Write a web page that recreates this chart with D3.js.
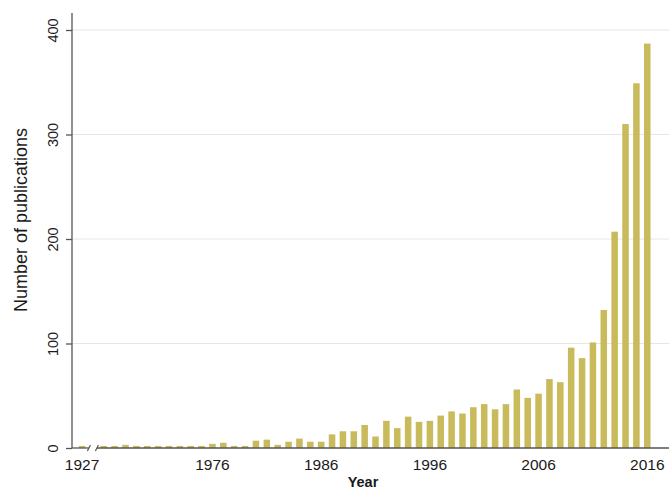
<!DOCTYPE html>
<html>
<head>
<meta charset="utf-8">
<script src="https://cdn.jsdelivr.net/npm/d3@7"></script>
<style>
  body { margin: 0; background: #fff; }
  text { font-family: "Liberation Sans", Arial, Helvetica, sans-serif; fill: #1a1a1a; }
</style>
</head>
<body>
<script>
// Data
const earlyYears = ["1927"];
const earlyCounts = [2];
const years = [
  "1966", "1967", "1968", "1969", "1970", "1971", "1972", "1973", "1974", "1975",
  "1976", "1977", "1978", "1979", "1980", "1981", "1982", "1983", "1984", "1985",
  "1986", "1987", "1988", "1989", "1990", "1991", "1992", "1993", "1994", "1995",
  "1996", "1997", "1998", "1999", "2000", "2001", "2002", "2003", "2004", "2005",
  "2006", "2007", "2008", "2009", "2010", "2011", "2012", "2013", "2014", "2015", "2016"
];
const counts = [
  2, 2, 3, 2, 2, 2, 2, 2, 2, 2,
  4, 5, 2, 2, 7, 8, 3, 6, 9, 6,
  6, 13, 16, 16, 22, 11, 26, 19, 30, 25,
  26, 31, 35, 33, 39, 42, 37, 42, 56, 48,
  52, 66, 63, 96, 86, 101, 132, 207, 310, 349, 387
];
const tickLabels = ["1927", "1976", "1986", "1996", "2006", "2016"];
const yTicks = [0, 100, 200, 300, 400];

// Configuration
const width = 669;
const height = 490;
const plotLeft = 72;
const plotBottom = 448;
const plotTop = 13;
const barColor = "#c9ba5c";
const axisColor = "#555";
const gapSlot = "gap";

// one empty slot stands for the axis break between 1927 and 1966
const slots = [...earlyYears, gapSlot, ...years];
const bars = earlyYears.map((yr, i) => ({ year: yr, n: earlyCounts[i] }))
  .concat(years.map((yr, i) => ({ year: yr, n: counts[i] })));

const svg = d3.select("body")
  .append("svg")
  .attr("width", width)
  .attr("height", height);

const x = d3.scaleBand()
  .domain(slots)
  .range([76.6, 652.7])
  .paddingInner(0.4)
  .paddingOuter(0.2);

const y = d3.scaleLinear()
  .domain([0, 400])
  .range([plotBottom, 30]);

// Gridlines
svg.append("g")
  .selectAll("line")
  .data(yTicks.filter(d => d > 0))
  .enter()
  .append("line")
  .attr("x1", plotLeft)
  .attr("x2", width)
  .attr("y1", d => y(d))
  .attr("y2", d => y(d))
  .attr("stroke", "#e6e6e6")
  .attr("stroke-width", 1);

// Bars
svg.append("g")
  .selectAll("rect")
  .data(bars)
  .enter()
  .append("rect")
  .attr("x", d => x(d.year))
  .attr("width", x.bandwidth())
  .attr("y", d => y(d.n))
  .attr("height", d => plotBottom - y(d.n))
  .attr("fill", barColor);

// Y axis
const yAxis = svg.append("g")
  .attr("transform", `translate(${plotLeft},0)`)
  .call(d3.axisLeft(y).tickValues(yTicks).tickSize(6).tickPadding(0).tickFormat(d3.format("d")));
yAxis.select(".domain").attr("d", `M0,${plotTop}V${plotBottom}`).attr("stroke", axisColor).attr("stroke-width", 1.3);
yAxis.selectAll(".tick line").attr("stroke", axisColor).attr("stroke-width", 1.3);
yAxis.selectAll(".tick text")
  .attr("x", null)
  .attr("text-anchor", "middle")
  .attr("transform", "translate(-19,0) rotate(-90)")
  .attr("dy", "0.35em")
  .style("font-size", "14.5px")
  .attr("fill", "#1a1a1a");

// X axis with break
const breakX = x(gapSlot) + x.bandwidth() / 2;
const xAxis = svg.append("g");
xAxis.append("line")
  .attr("x1", plotLeft).attr("x2", breakX - 4)
  .attr("y1", plotBottom).attr("y2", plotBottom)
  .attr("stroke", axisColor).attr("stroke-width", 1.3);
xAxis.append("line")
  .attr("x1", breakX + 4).attr("x2", width)
  .attr("y1", plotBottom).attr("y2", plotBottom)
  .attr("stroke", axisColor).attr("stroke-width", 1.3);
[-4, 4].forEach(dx => {
  xAxis.append("line")
    .attr("x1", breakX + dx - 1.5).attr("x2", breakX + dx + 1.5)
    .attr("y1", plotBottom + 3).attr("y2", plotBottom - 3)
    .attr("stroke", axisColor).attr("stroke-width", 1.2);
});

xAxis.selectAll("text")
  .data(tickLabels)
  .enter()
  .append("text")
  .attr("x", d => x(d) + x.bandwidth() / 2)
  .attr("y", plotBottom + 22)
  .attr("text-anchor", "middle")
  .style("font-size", "15.5px")
  .text(d => d);

// Axis titles
svg.append("text")
  .attr("x", 363)
  .attr("y", 487)
  .attr("text-anchor", "middle")
  .style("font-size", "14.5px")
  .style("font-weight", "bold")
  .text("Year");

svg.append("text")
  .attr("transform", "translate(27,220) rotate(-90)")
  .attr("text-anchor", "middle")
  .style("font-size", "18px")
  .text("Number of publications");
</script>
</body>
</html>
